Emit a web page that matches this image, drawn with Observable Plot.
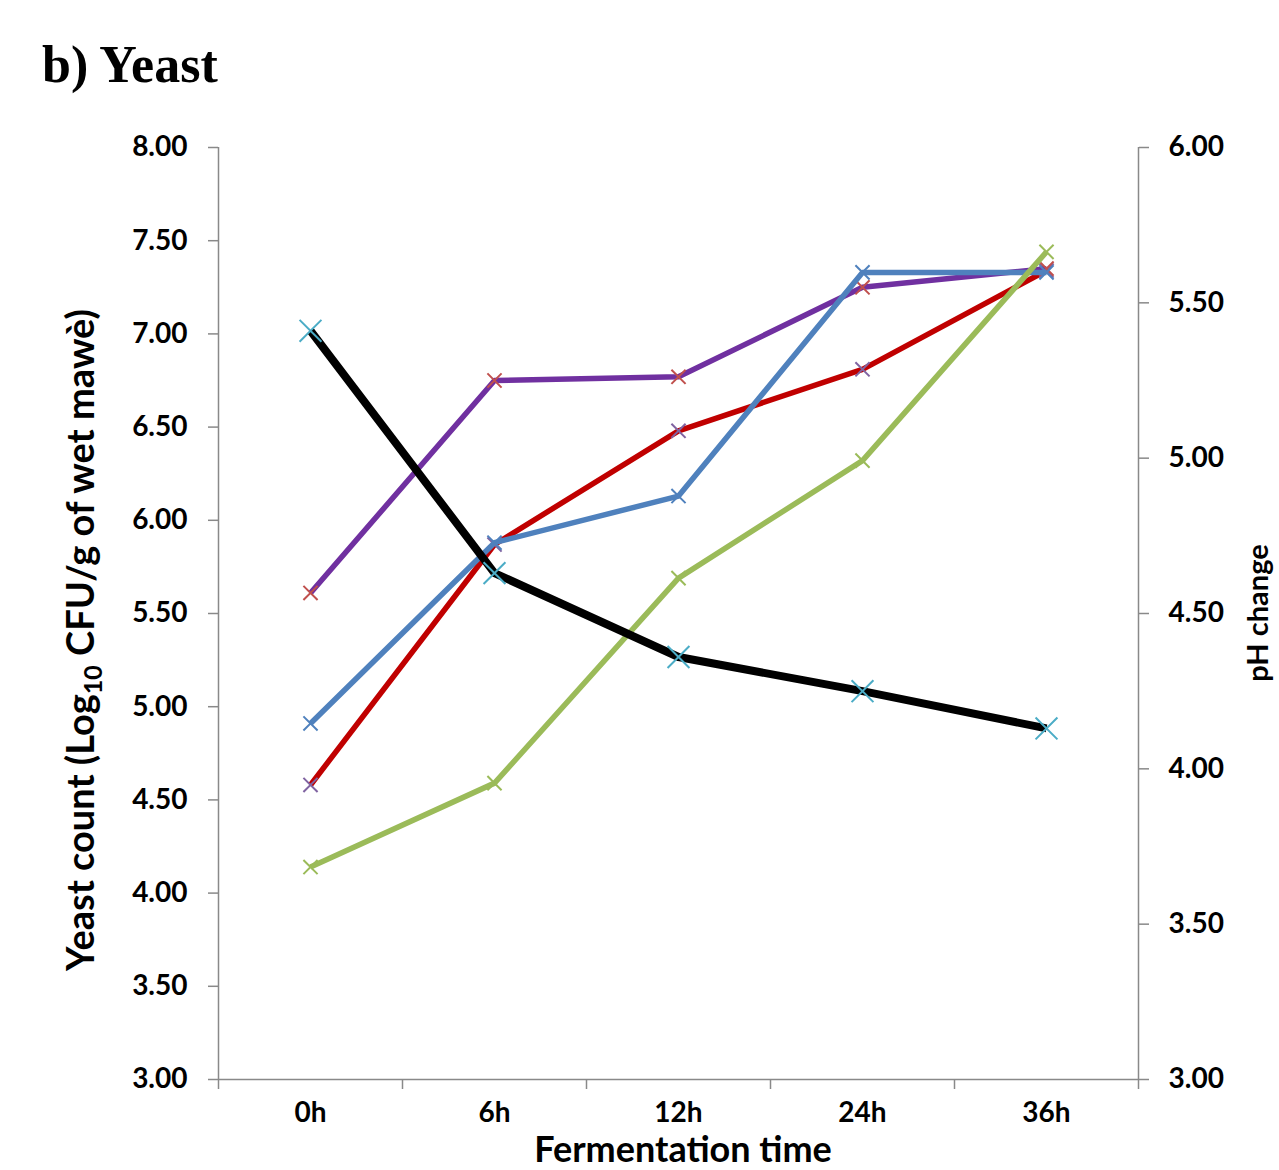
<!DOCTYPE html>
<html>
<head>
<meta charset="utf-8">
<script src="https://cdn.jsdelivr.net/npm/d3@7"></script>
<script src="https://cdn.jsdelivr.net/npm/@observablehq/plot@0.6"></script>
<style>
  html, body { margin: 0; padding: 0; background: #fff; }
  #title { height: 110px; box-sizing: border-box; padding: 40px 0 0 42px; font-family: "Liberation Serif", "DejaVu Serif", serif; font-weight: bold; font-size: 52px; line-height: 50px; color: #000; }
  #chart svg { display: block; overflow: hidden; }
</style>
</head>
<body>
<div id="title">b) Yeast</div>
<div id="chart"></div>
<script>
// Categories and series
const categories = ["0h", "6h", "12h", "24h", "36h"];
const seriesBlue   = [4.91, 5.88, 6.13, 7.33, 7.33];
const seriesRed    = [4.58, 5.87, 6.48, 6.81, 7.34];
const seriesGreen  = [4.14, 4.59, 5.69, 6.32, 7.44];
const seriesPurple = [5.61, 6.75, 6.77, 7.25, 7.35];
const seriesPH     = [5.41, 4.63, 4.36, 4.25, 4.13]; // right axis
const leftTicks  = [3.0, 3.5, 4.0, 4.5, 5.0, 5.5, 6.0, 6.5, 7.0, 7.5, 8.0];
const rightTicks = [3.0, 3.5, 4.0, 4.5, 5.0, 5.5, 6.0];

const leftDomain = [3, 8], rightDomain = [3, 6];
const toLeft = p => leftDomain[0] + (p - rightDomain[0]) * (leftDomain[1] - leftDomain[0]) / (rightDomain[1] - rightDomain[0]);
const toRight = v => rightDomain[0] + (v - leftDomain[0]) * (rightDomain[1] - rightDomain[0]) / (leftDomain[1] - leftDomain[0]);

const rows = (vals, conv = v => v) => vals.map((v, i) => ({t: i + 0.5, v: conv(v)}));

const series = [
  {data: rows(seriesRed),    line: "#C00000", marker: "#8064A2", w: 5.5, r: 6.5},
  {data: rows(seriesPurple), line: "#7030A0", marker: "#C0504D", w: 5.5, r: 6.5},
  {data: rows(seriesBlue),   line: "#4F81BD", marker: "#4F81BD", w: 5.5, r: 6.5},
  {data: rows(seriesGreen),  line: "#9BBB59", marker: "#9BBB59", w: 5.5, r: 6.5},
  {data: rows(seriesPH, toLeft), line: "#000000", marker: "#4BACC6", w: 8, r: 10}
];

const W = 1279, H = 1060, mL = 218, mR = 141, mT = 37, mB = 91;
const font = "Lato, 'Open Sans', sans-serif";
const axisGray = "#898989";

const marks = [];
marks.push(Plot.ruleY([leftDomain[0]], {stroke: axisGray, strokeWidth: 1.5}));
marks.push(Plot.ruleX([0, categories.length], {stroke: axisGray, strokeWidth: 1.5}));
marks.push(Plot.axisX({ticks: d3.range(categories.length + 1), tickSize: 10, tickFormat: () => "", stroke: axisGray, strokeWidth: 1.5, label: null}));
marks.push(Plot.axisX({ticks: categories.map((c, i) => i + 0.5), tickSize: 0, tickPadding: 23, tickFormat: d => categories[Math.floor(d)], fontSize: 28, fontWeight: "bold", label: null}));
marks.push(Plot.axisY({ticks: leftTicks, tickSize: 10, tickPadding: 21, tickFormat: d3.format(".2f"), stroke: axisGray, strokeWidth: 1.5, fontSize: 28, fontWeight: "bold", label: null}));
marks.push(Plot.axisY({anchor: "right", ticks: rightTicks.map(toLeft), tickSize: 10, tickPadding: 20, tickFormat: d => toRight(d).toFixed(2), stroke: axisGray, strokeWidth: 1.5, fontSize: 28, fontWeight: "bold", label: null}));
for (const s of series) {
  marks.push(Plot.line(s.data, {x: "t", y: "v", stroke: s.line, strokeWidth: s.w, strokeLinejoin: "round", strokeLinecap: "butt"}));
  marks.push(Plot.dot(s.data, {x: "t", y: "v", symbol: "times", r: s.r, stroke: s.marker, strokeWidth: 2}));
}

const svg = Plot.plot({
  width: W, height: H,
  marginLeft: mL, marginRight: mR, marginTop: mT, marginBottom: mB,
  style: {fontFamily: font, fontSize: "28px", fontWeight: "bold", color: "#000", background: "#fff", overflow: "hidden"},
  x: {type: "linear", domain: [0, categories.length]},
  y: {domain: leftDomain},
  marks
});

const root = d3.select(svg);
// Left y-axis title with subscript
const yl = root.append("text")
  .attr("transform", `translate(94, ${530}) rotate(-90)`)
  .attr("text-anchor", "middle")
  .attr("font-family", font).attr("font-weight", "bold").attr("font-size", 38).attr("fill", "#000");
yl.append("tspan").text("Yeast count (Log");
yl.append("tspan").attr("font-size", 25).attr("dy", 8).text("10");
yl.append("tspan").attr("dy", -8).text(" CFU/g of wet mawè)");
// Right axis title
root.append("text")
  .attr("transform", `translate(1268, ${(mT + H - mB) / 2}) rotate(-90)`)
  .attr("text-anchor", "middle")
  .attr("font-family", font).attr("font-weight", "bold").attr("font-size", 29).attr("fill", "#000")
  .text("pH change");
// X axis title
root.append("text")
  .attr("x", (mL + W - mR) / 2 + 5).attr("y", H - 8)
  .attr("text-anchor", "middle")
  .attr("font-family", font).attr("font-weight", "bold").attr("font-size", 36).attr("fill", "#000")
  .text("Fermentation time");

document.getElementById("chart").appendChild(svg);
</script>
</body>
</html>
